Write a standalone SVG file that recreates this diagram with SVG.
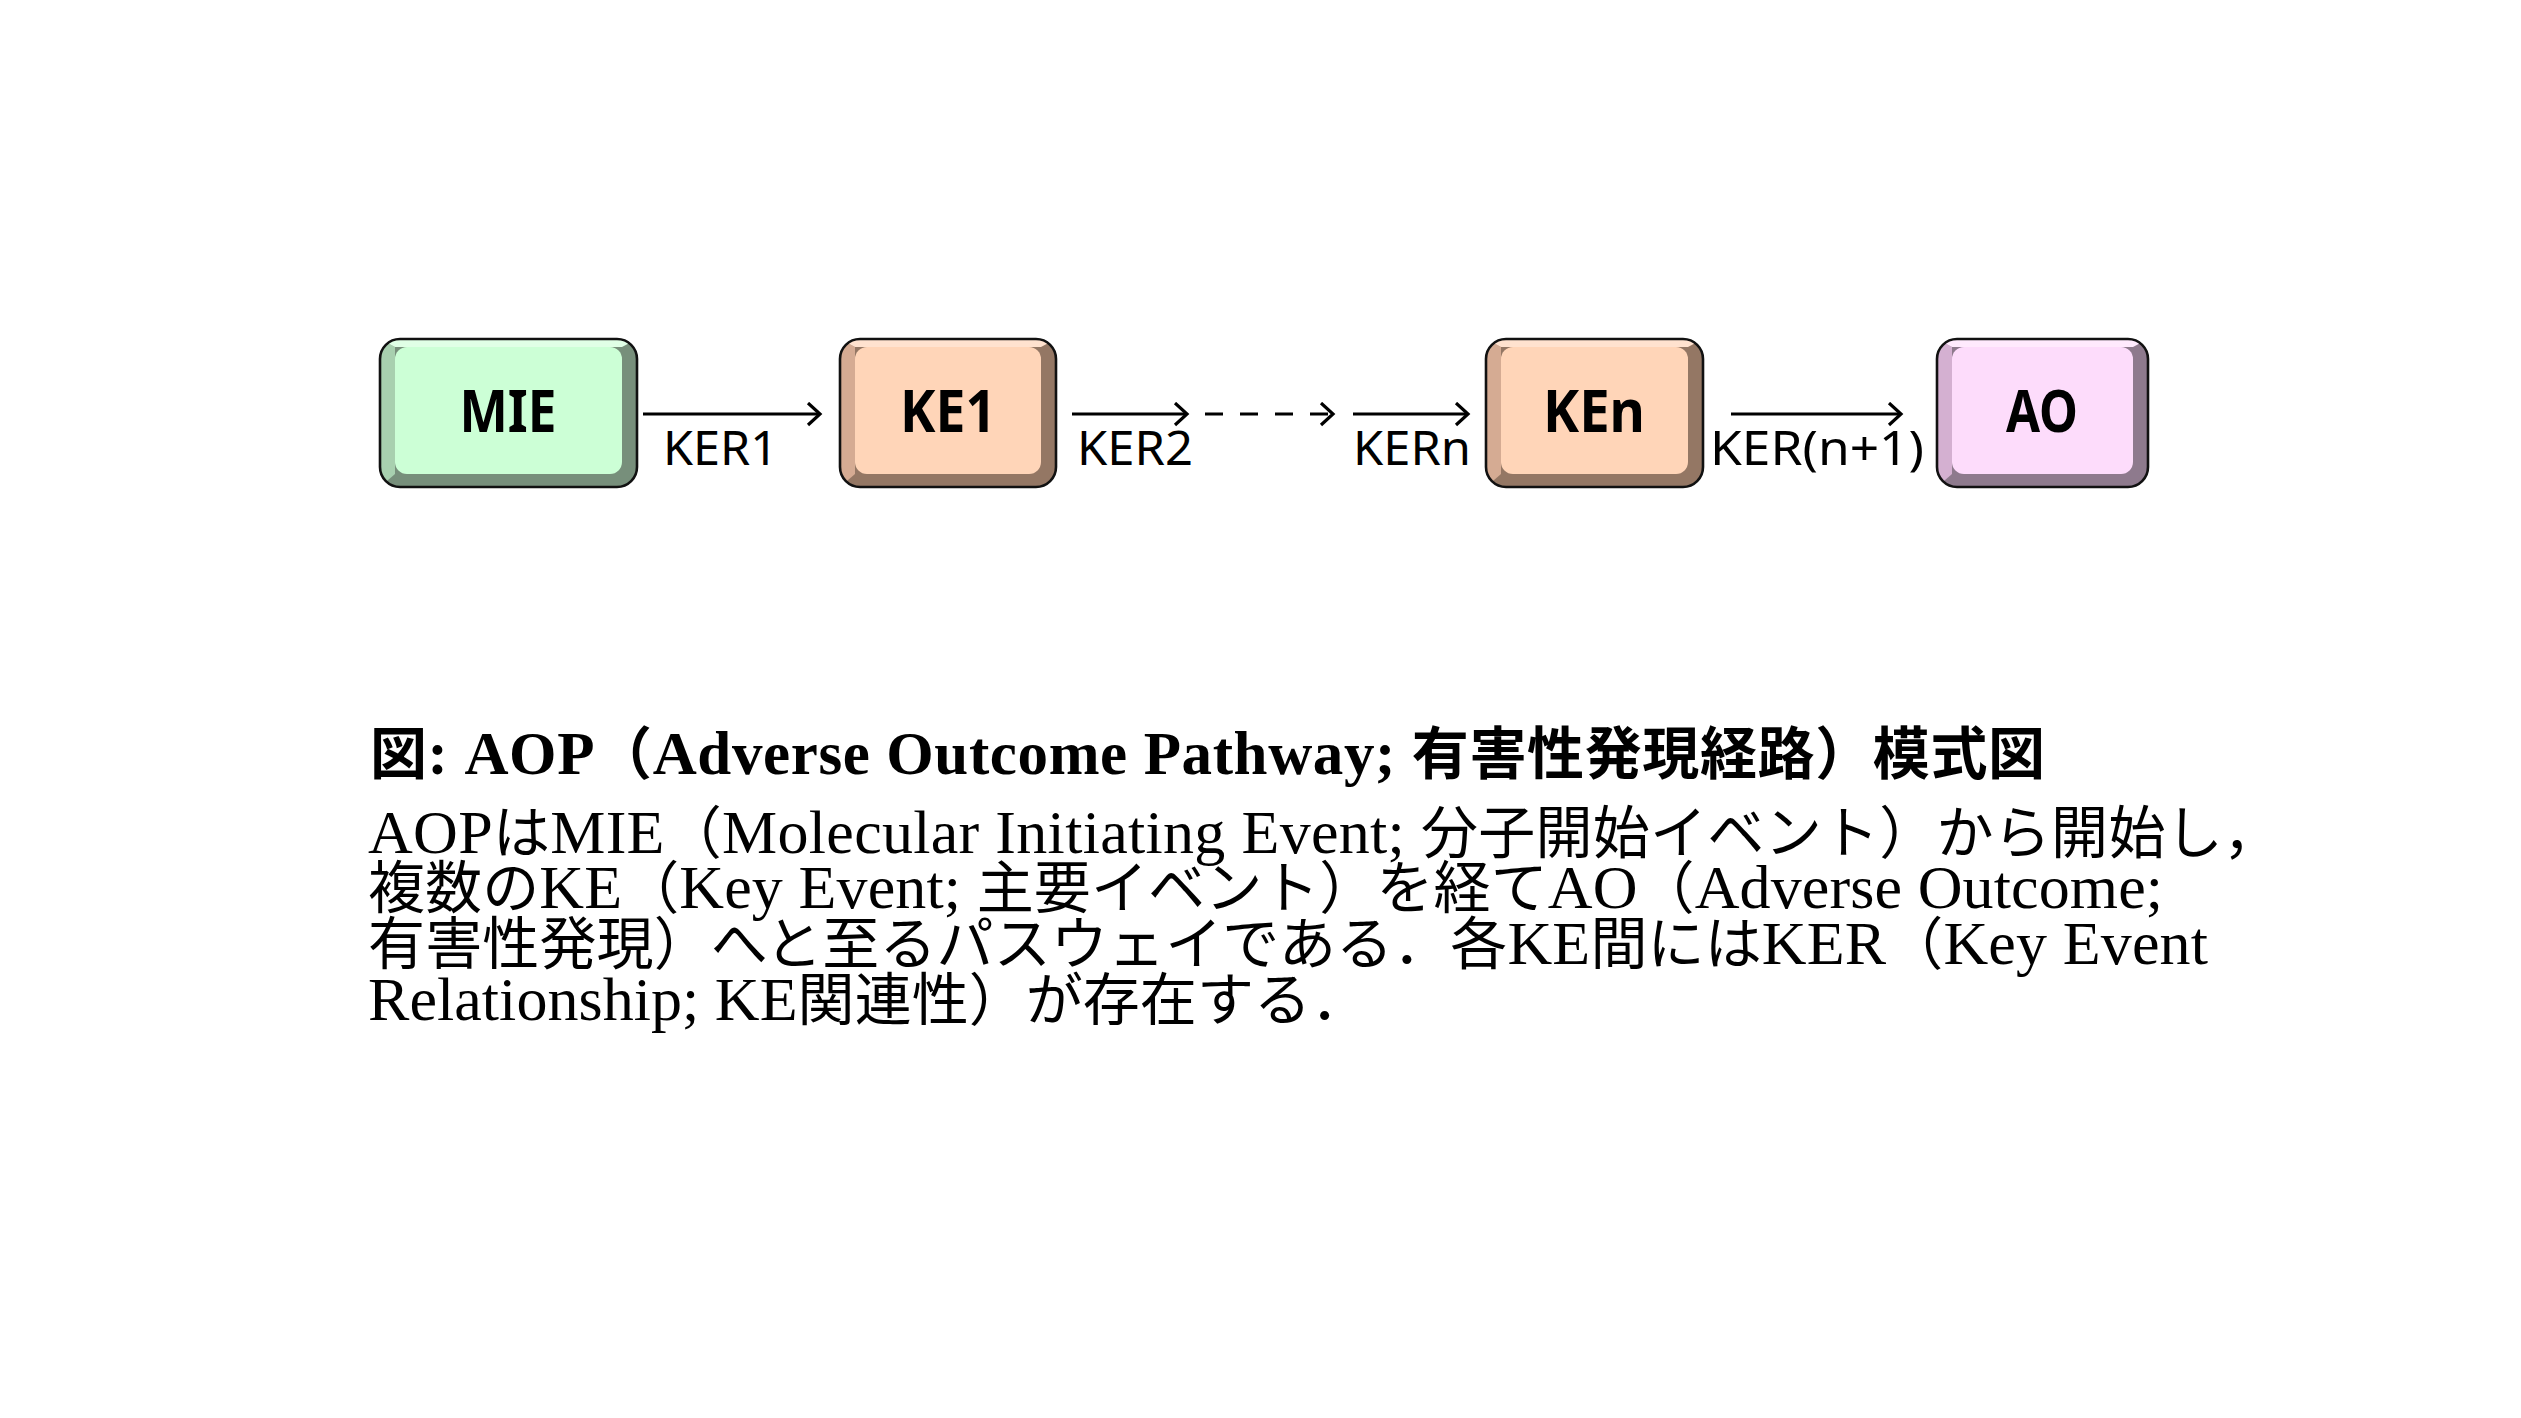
<svg xmlns="http://www.w3.org/2000/svg" width="2521" height="1418" viewBox="0 0 2521 1418">
<style>
.outline{fill:none;stroke:#111;stroke-width:2.6}
.lbl{font-family:"Noto Sans","Open Sans",sans-serif;font-weight:700;font-size:60px;fill:#000;text-anchor:middle}
.ker{font-family:"Noto Sans","Open Sans",sans-serif;font-size:47px;fill:#000}
.conn{stroke:#000;stroke-width:3.2;fill:none}
.dash{stroke-dasharray:18 17}
.cap{font-family:"Liberation Serif","Noto Sans CJK JP",serif;font-weight:700;font-size:61px;fill:#000}
.body{font-family:"Liberation Serif","Noto Sans CJK JP",serif;font-size:62px;fill:#000}
.j{font-family:"Noto Sans CJK JP",sans-serif;font-size:57px}
.g-dark{fill:#778f7b}.g-left{fill:#a8d0af}.g-top{fill:#e0ffe6}.g-face{fill:#ccffd6}
.p-dark{fill:#947764}.p-left{fill:#d5ab93}.p-top{fill:#ffe2cf}.p-face{fill:#ffd5b8}
.m-dark{fill:#8e7a8d}.m-left{fill:#d4b0d1}.m-top{fill:#ffeafd}.m-face{fill:#fddcfb}
</style>
<defs>
<marker id="arr" markerUnits="userSpaceOnUse" markerWidth="20" markerHeight="30" refX="14" refY="12" orient="auto">
<path d="M2,1 L14,12 L2,23" fill="none" stroke="#000" stroke-width="3.2" stroke-linejoin="miter"/>
</marker>
<clipPath id="c-mie"><rect x="380" y="339" width="257" height="148" rx="20"/></clipPath>
<clipPath id="c-ke1"><rect x="840" y="339" width="216" height="148" rx="20"/></clipPath>
<clipPath id="c-ken"><rect x="1486" y="339" width="217" height="148" rx="20"/></clipPath>
<clipPath id="c-ao"><rect x="1937" y="339" width="211" height="148" rx="20"/></clipPath>
</defs>
<rect x="0" y="0" width="2521" height="1418" fill="#fff"/>

<g id="node-mie">
<g clip-path="url(#c-mie)">
<rect class="g-dark" x="380" y="339" width="257" height="148"/>
<polygon class="g-left" points="380,339 395,347 395,474 380,487"/>
<polygon class="g-top" points="380,339 637,339 622,347 395,347"/>
<rect class="g-face" x="395" y="347" width="227" height="127" rx="12"/>
</g>
<rect class="outline" x="380" y="339" width="257" height="148" rx="20"/>
<text class="lbl" x="508" y="432" textLength="97" lengthAdjust="spacingAndGlyphs">MIE</text>
</g>

<g id="node-ke1">
<g clip-path="url(#c-ke1)">
<rect class="p-dark" x="840" y="339" width="216" height="148"/>
<polygon class="p-left" points="840,339 855,347 855,474 840,487"/>
<polygon class="p-top" points="840,339 1056,339 1041,347 855,347"/>
<rect class="p-face" x="855" y="347" width="186" height="127" rx="12"/>
</g>
<rect class="outline" x="840" y="339" width="216" height="148" rx="20"/>
<text class="lbl" x="948" y="432" textLength="96" lengthAdjust="spacingAndGlyphs">KE1</text>
</g>

<g id="node-ken">
<g clip-path="url(#c-ken)">
<rect class="p-dark" x="1486" y="339" width="217" height="148"/>
<polygon class="p-left" points="1486,339 1501,347 1501,474 1486,487"/>
<polygon class="p-top" points="1486,339 1703,339 1688,347 1501,347"/>
<rect class="p-face" x="1501" y="347" width="187" height="127" rx="12"/>
</g>
<rect class="outline" x="1486" y="339" width="217" height="148" rx="20"/>
<text class="lbl" x="1594" y="432" textLength="102" lengthAdjust="spacingAndGlyphs">KEn</text>
</g>

<g id="node-ao">
<g clip-path="url(#c-ao)">
<rect class="m-dark" x="1937" y="339" width="211" height="148"/>
<polygon class="m-left" points="1937,339 1952,347 1952,474 1937,487"/>
<polygon class="m-top" points="1937,339 2148,339 2133,347 1952,347"/>
<rect class="m-face" x="1952" y="347" width="181" height="127" rx="12"/>
</g>
<rect class="outline" x="1937" y="339" width="211" height="148" rx="20"/>
<text class="lbl" x="2042" y="432" textLength="72" lengthAdjust="spacingAndGlyphs">AO</text>
</g>

<g id="connectors">
<line class="conn" x1="643" y1="414" x2="820" y2="414" marker-end="url(#arr)"/>
<line class="conn" x1="1072" y1="414" x2="1187" y2="414" marker-end="url(#arr)"/>
<line class="conn dash" x1="1205" y1="414" x2="1333" y2="414" marker-end="url(#arr)"/>
<line class="conn" x1="1353" y1="414" x2="1468" y2="414" marker-end="url(#arr)"/>
<line class="conn" x1="1731" y1="414" x2="1901" y2="414" marker-end="url(#arr)"/>
<text class="ker" x="663" y="465" textLength="115" lengthAdjust="spacingAndGlyphs">KER1</text>
<text class="ker" x="1077" y="465" textLength="116" lengthAdjust="spacingAndGlyphs">KER2</text>
<text class="ker" x="1353" y="465" textLength="118" lengthAdjust="spacingAndGlyphs">KERn</text>
<text class="ker" x="1710" y="465" textLength="214" lengthAdjust="spacingAndGlyphs">KER(n+1)</text>
</g>

<g id="caption">
<text class="cap" x="370" y="774" textLength="1675" lengthAdjust="spacing"><tspan class="j">図</tspan>: AOP<tspan class="j">（</tspan>Adverse Outcome Pathway; <tspan class="j">有害性発現経路）模式図</tspan></text>
<text class="body" x="368" y="853" textLength="1912" lengthAdjust="spacing">AOP<tspan class="j">は</tspan>MIE<tspan class="j">（</tspan>Molecular Initiating Event; <tspan class="j">分子開始イベント）から開始し，</tspan></text>
<text class="body" x="368" y="908" textLength="1795" lengthAdjust="spacing"><tspan class="j">複数の</tspan>KE<tspan class="j">（</tspan>Key Event; <tspan class="j">主要イベント）を経て</tspan>AO<tspan class="j">（</tspan>Adverse Outcome;</text>
<text class="body" x="368" y="964" textLength="1840" lengthAdjust="spacing"><tspan class="j">有害性発現）へと至るパスウェイである．各</tspan>KE<tspan class="j">間には</tspan>KER<tspan class="j">（</tspan>Key Event</text>
<text class="body" x="368" y="1020" textLength="1000" lengthAdjust="spacing">Relationship; KE<tspan class="j">関連性）が存在する．</tspan></text>
</g>
</svg>
